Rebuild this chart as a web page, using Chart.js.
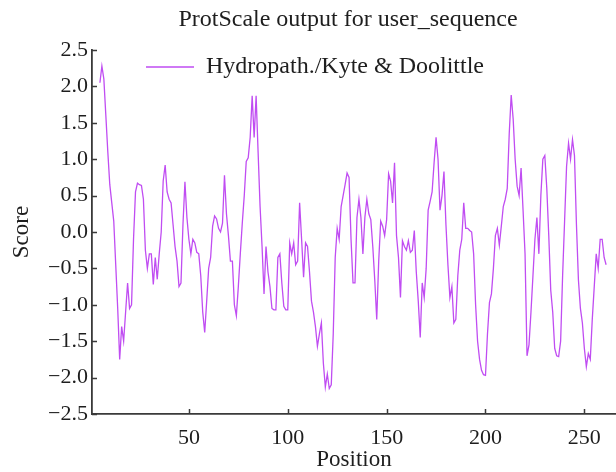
<!DOCTYPE html>
<html lang="en">
<head>
<meta charset="UTF-8">
<title>ProtScale output</title>
<script src="https://cdn.jsdelivr.net/npm/chart.js"></script>
<style>
  html, body { margin: 0; padding: 0; background: #fff; overflow: hidden; }
  .box { width: 616px; height: 472px; }
</style>
</head>
<body>
<div class="box"><canvas id="grafico" width="616" height="472"></canvas></div>
<script>
// data
var firstPosition = 5;
var scores = [
  2.05, 2.28, 2.1, 1.6, 1.1, 0.65, 0.4, 0.15, -0.45, -1.05,
  -1.75, -1.3, -1.5, -1.1, -0.7, -1.05, -1.0, -0.1, 0.55, 0.67,
  0.65, 0.64, 0.45, -0.25, -0.5, -0.3, -0.3, -0.72, -0.35, -0.65,
  -0.3, 0.0, 0.7, 0.92, 0.55, 0.45, 0.4, 0.1, -0.2, -0.4,
  -0.75, -0.7, 0.1, 0.69, 0.2, -0.1, -0.3, -0.1, -0.15, -0.28,
  -0.3, -0.6, -1.1, -1.38, -0.95, -0.5, -0.35, 0.08, 0.22, 0.18,
  0.05, 0.0, 0.12, 0.78, 0.25, -0.05, -0.4, -0.4, -1.0, -1.15,
  -0.75, -0.3, 0.12, 0.5, 0.97, 1.02, 1.3, 1.87, 1.3, 1.87,
  1.1, 0.35, -0.2, -0.85, -0.2, -0.55, -0.75, -1.05, -1.07, -1.07,
  -0.35, -0.3, -0.7, -1.02, -1.07, -1.07, -0.15, -0.3, -0.15, -0.45,
  -0.4, 0.4, -0.1, -0.62, -0.15, -0.2, -0.55, -0.95, -1.1, -1.3,
  -1.57, -1.4, -1.25, -1.8, -2.13, -1.95, -2.15, -2.1, -1.4, -0.35,
  0.05, -0.1, 0.35, 0.5, 0.65, 0.81, 0.75, -0.1, -0.7, -0.7,
  0.2, 0.45, 0.2, -0.3, 0.2, 0.45, 0.25, 0.17, -0.2, -0.66,
  -1.2, -0.4, 0.15, 0.08, -0.05, 0.17, 0.8, 0.7, 0.4, 0.95,
  -0.05, -0.35, -0.9, -0.12, -0.2, -0.25, -0.12, -0.28, -0.25, 0.02,
  -0.55, -0.95, -1.45, -0.7, -0.9, -0.5, 0.3, 0.42, 0.55, 0.95,
  1.3, 1.0, 0.3, 0.5, 0.83, 0.1, -0.45, -0.9, -0.75, -1.25,
  -1.2, -0.6, -0.25, -0.1, 0.4, 0.05, 0.05, 0.02, 0.0, -0.3,
  -1.0, -1.5, -1.75, -1.9, -1.96, -1.97, -1.4, -0.97, -0.85, -0.5,
  -0.05, 0.05, -0.18, 0.08, 0.35, 0.45, 0.6, 1.35, 1.88, 1.55,
  1.0, 0.63, 0.5, 0.88, 0.3, -0.3, -1.7, -1.55, -1.1, -0.6,
  -0.1, 0.2, -0.3, 0.5, 1.0, 1.05, 0.6, -0.05, -0.8, -1.1,
  -1.6, -1.7, -1.71, -1.5, -0.6, 0.15, 0.9, 1.22, 1.0, 1.27,
  1.05, 0.1, -0.66, -1.05, -1.25, -1.6, -1.85, -1.67, -1.75, -1.2,
  -0.75, -0.3, -0.5, -0.1, -0.1, -0.35, -0.45
];
var positions = scores.map(function (v, i) { return firstPosition + i; });
var xTicks = [50, 100, 150, 200, 250];
var yTicks = [-2.5, -2.0, -1.5, -1.0, -0.5, 0.0, 0.5, 1.0, 1.5, 2.0, 2.5];

var serif = 'Liberation Serif';
var texto = '#1e1e1e';
var eixo = '#3a3a3a';

// MATLAB style ticks pointing into the plot
var ticksDentro = {
  id: 'ticksDentro',
  afterDraw: function (chart) {
    var ctx = chart.ctx, a = chart.chartArea;
    var x = chart.scales.x, y = chart.scales.y;
    ctx.save();
    ctx.strokeStyle = eixo;
    ctx.lineWidth = 1.5;
    ctx.beginPath();
    xTicks.forEach(function (t) {
      var px = Math.round(x.getPixelForValue(t)) + 0.5;
      ctx.moveTo(px, a.bottom);
      ctx.lineTo(px, a.bottom - 5);
    });
    yTicks.forEach(function (t) {
      var py = Math.round(y.getPixelForValue(t)) + 0.5;
      ctx.moveTo(a.left, py);
      ctx.lineTo(a.left + 5, py);
    });
    ctx.stroke();
    ctx.restore();
  }
};

// title centred over the axes, legend inside the axes right of the y axis
var ajustarCaixas = {
  id: 'ajustarCaixas',
  afterLayout: function (chart) {
    var a = chart.chartArea;
    if (chart.titleBlock) {
      chart.titleBlock.left = a.left - 12;
      chart.titleBlock.right = a.right;
    }
    var lg = chart.legend;
    if (lg) {
      var h = lg.height;
      lg.left = a.left + 49;
      lg.top = a.top;
      lg.bottom = lg.top + h;
    }
  }
};

new Chart(document.getElementById('grafico').getContext('2d'), {
  type: 'line',
  data: {
    datasets: [{
      label: 'Hydropath./Kyte & Doolittle',
      data: positions.map(function (p, i) { return { x: p, y: scores[i] }; }),
      borderColor: '#c04df2',
      backgroundColor: '#c04df2',
      borderWidth: 1.3,
      pointRadius: 0,
      tension: 0,
      fill: false
    }]
  },
  options: {
    responsive: false,
    animation: false,
    layout: { padding: 0 },
    plugins: {
      title: {
        display: true,
        text: 'ProtScale output for user_sequence',
        color: texto,
        font: { family: serif, size: 24, weight: 'normal', lineHeight: 1.2 },
        padding: { top: 5, bottom: 16.2 }
      },
      legend: {
        display: true,
        position: 'chartArea',
        align: 'start',
        labels: {
          boxWidth: 48,
          boxHeight: 0,
          padding: 5,
          color: texto,
          font: { family: serif, size: 24 }
        }
      },
      tooltip: { enabled: false }
    },
    scales: {
      x: {
        type: 'linear',
        min: 1,
        max: 266,
        afterBuildTicks: function (s) { s.ticks = xTicks.map(function (v) { return { value: v }; }); },
        afterFit: function (s) { s.height = 58; },
        grid: { display: true, drawOnChartArea: false, drawTicks: false },
        border: { display: true, color: eixo, width: 1.8 },
        ticks: {
          color: texto,
          padding: 11,
          maxRotation: 0,
          font: { family: serif, size: 22 },
          callback: function (v) { return String(v); }
        },
        title: {
          display: true,
          text: 'Position',
          color: texto,
          font: { family: serif, size: 23, lineHeight: 1 },
          padding: { top: 0, bottom: 0.5 }
        }
      },
      y: {
        type: 'linear',
        min: -2.5,
        max: 2.5,
        afterBuildTicks: function (s) { s.ticks = yTicks.map(function (v) { return { value: v }; }); },
        afterFit: function (s) { s.width = 92; },
        grid: { display: true, drawOnChartArea: false, drawTicks: false },
        border: { display: true, color: eixo, width: 1.8 },
        ticks: {
          color: texto,
          padding: 4,
          font: { family: serif, size: 22 },
          callback: function (v) {
            var t = Math.abs(v).toFixed(1);
            return v < 0 ? '\u2212' + t : t;
          }
        },
        title: {
          display: true,
          text: 'Score',
          color: texto,
          font: { family: serif, size: 23, lineHeight: 1 },
          padding: { top: 10.5, bottom: 0 }
        }
      }
    }
  },
  plugins: [ticksDentro, ajustarCaixas]
});
</script>
</body>
</html>
